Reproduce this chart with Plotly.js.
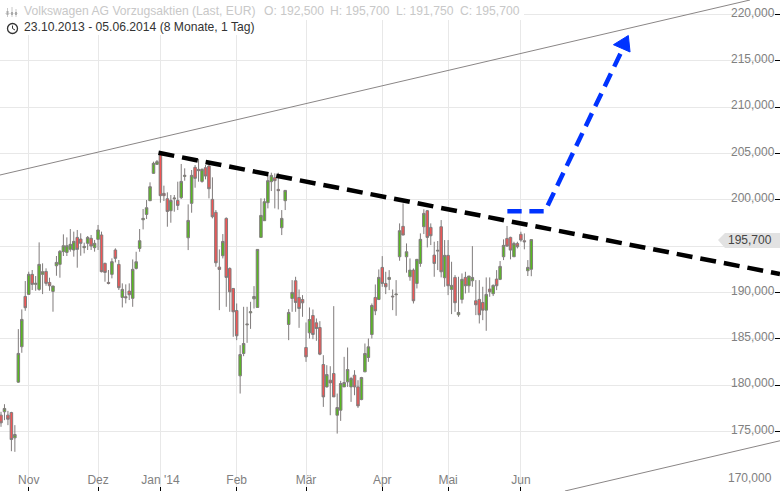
<!DOCTYPE html>
<html><head><meta charset="utf-8">
<script src="https://cdn.plot.ly/plotly-3.0.1.min.js"></script>
<style>html,body{margin:0;padding:0;background:#fff}#c{width:780px;height:491px}</style></head>
<body><div id="c"></div>
<script>
const open=[176760,177120,176760,177040,174310,180320,184140,189570,189790,191950,190870,190330,191950,192270,191080,190110,192880,193030,194400,194320,194650,194580,195940,195760,194830,195300,195840,194830,195730,196200,193140,191080,191950,194580,193030,189460,189540,190150,189360,192590,
194750,197840,198420,199900,202850,203820,204940,200690,200110,198820,200110,199930,200220,202520,195900,199610,203500,203280,201980,203460,203640,200040,198640,192730,193960,197990,192590,190430,188050,181000,183410,186500,187800,189310,188380,195940,197740,199680,
201950,202380,201120,196980,199900,186540,189350,191260,189460,189240,184060,185640,187510,186720,186220,182220,179810,180530,181250,176750,177290,179810,180350,179810,181070,179810,178440,181430,182980,185460,189460,189240,192700,190970,191400,189600,189750,
193850,197130,193850,191690,192410,190970,193130,197090,198820,197020,194030,194460,197090,191590,194000,190330,191620,187590,189250,191620,190720,191260,189100,189250,188920,188090,190360,189860,191440,191410,193850,195830,195940,193850,195290,196270,195580,192340,192500];
const high=[177120,177940,177220,177120,175680,186040,188170,191230,192240,192420,191770,195400,193140,192600,191590,190720,193930,194580,196270,195940,196840,196560,196740,196380,195370,196090,196200,195660,197280,196560,193210,192420,193680,194760,193500,190980,190870,190980,193560,194390,
196840,199000,199970,201880,204110,204290,205010,201520,200800,200510,200510,201950,203860,203390,199500,203210,203750,204400,203390,203750,203750,202420,198890,194640,196300,198100,192700,190430,188810,184310,188450,188450,188990,190680,194640,200150,200150,202670,
202920,202850,202920,198890,201050,188200,191330,191690,190320,189710,186760,188380,188160,187190,186900,183230,182150,182040,188520,179090,180460,183050,184060,180890,181610,180530,180890,184490,185030,188810,190860,192480,193920,192230,192410,190320,191330,
197450,199610,195290,193670,192590,193600,196370,198970,198890,197450,195470,195550,197810,195650,195650,193310,191870,191690,192050,192230,191770,195000,191330,191330,190610,191620,191620,190870,192410,193390,195730,197170,196010,195470,195470,196550,196370,193490,195700];
const low=[175500,176220,175680,172870,172800,180250,183490,188020,189720,190260,190180,190180,189820,190720,190180,187920,191800,191590,193930,193930,194400,193860,192670,193960,194220,194580,194580,194400,194580,192160,191160,190870,191520,193240,190260,188380,188820,189180,188450,192480,
194390,196800,197920,199860,202780,203750,199680,199860,197090,197520,198710,198890,200080,202060,194570,198600,201300,201950,201840,202200,200150,197990,192770,188090,193670,188450,187910,185210,184850,179090,183120,184560,186070,188270,188340,195940,197740,199070,
200940,199070,198960,196190,198890,184850,187910,187910,186180,187370,182510,185030,184960,184780,183230,177650,179740,176750,178730,174770,176140,179810,179810,178190,178910,177540,178370,181430,182510,185030,187550,189170,190610,189820,190250,188090,187480,
193420,196190,192130,191260,188810,190430,192770,196300,194860,195110,191690,192410,191620,190610,189710,187660,187910,187370,188810,189890,189970,190610,187550,186650,187010,185860,189530,189610,190250,191330,193490,194930,193570,193850,194750,195470,194650,191770,191750];
const close=[175930,177480,176320,174130,174670,183420,187090,188350,191950,190870,190980,193030,192240,190980,190720,190690,193240,194430,195040,195040,195190,195510,194650,195300,194970,195940,195010,195300,196740,192240,192160,190980,193320,193680,190510,190330,189430,189750,192490,193310,
195580,197990,199140,201410,203930,204110,200440,200440,198740,199930,200180,199390,201980,202630,197770,202630,202310,203140,203280,202560,201190,198170,193200,192480,195500,191620,190070,187910,185320,183300,184490,186580,187910,189560,194640,198310,199790,202060,
202630,202060,200980,197990,201010,187840,190000,188920,188270,188880,183050,187080,185460,186110,183340,178730,181140,180240,178730,177580,180170,180280,181680,180710,179810,177760,180820,183410,184130,188590,188020,191620,190970,190610,191620,189530,189820,
196660,196190,194390,192410,189100,193570,195730,198530,195940,196120,193130,194540,192230,194000,190720,190760,188890,187840,191410,190720,191770,191620,188670,187590,188090,189790,190070,190760,190720,192810,195080,195000,194570,195290,194930,195650,195470,192700,195700];

const monthLabels=['Nov','Dez',"Jan '14",'Feb','M\u00e4r','Apr','Mai','Jun'];
const monthIndex=[8,28,46,68,88,110,129,150];
const priceTicks=[170000,175000,180000,185000,190000,195000,200000,205000,210000,215000,220000];
const priceTickLabels=['170,000','175,000','180,000','185,000','190,000','','200,000','205,000','210,000','215,000','220,000'];

const upperChannelX=[-0.29,216.1], upperChannelY=[202672,221554];
const lowerChannelX=[162.7,224.75], lowerChannelY=[168575,173995];
const resistanceX=[45.44,224.75], resistanceY=[205067,191990];
const targetX=[146.1,156.95,179.5], targetY=[198755,198755,216375];
const arrowHeadX=[181.0,176.7,181.5,181.0], arrowHeadY=[217724,216731,215943,217724];

const W=780,H=491;
const px=v=>v/W, py=v=>1-v/H;
const idx=open.map((_,i)=>i);
const greyLine='#807c7c';

const line=(x,y,color,width,dash)=>({type:'scatter',mode:'lines',x,y,hoverinfo:'skip',showlegend:false,
  line:{color,width,dash:dash||'solid',simplify:false}});

const traces=[
 line(upperChannelX,upperChannelY,'#8a8686',1),
 line(lowerChannelX,lowerChannelY,'#8a8686',1),
 {type:'candlestick',x:idx,open,high,low,close,whiskerwidth:0,showlegend:false,
  increasing:{line:{color:greyLine,width:1},fillcolor:'#58b821'},
  decreasing:{line:{color:greyLine,width:1},fillcolor:'#f25555'}},
 line(resistanceX,resistanceY,'#000000',4.5,'16px,8px'),
 line(targetX,targetY,'#0033ff',4.5,'14.3px,7.7px'),
 {type:'scatter',mode:'lines',x:arrowHeadX,y:arrowHeadY,fill:'toself',fillcolor:'#0033ff',
  line:{color:'#0033ff',width:1},hoverinfo:'skip',showlegend:false}
];

const hf=12.15;
const hdr=(t,x,y,c)=>({text:t,xref:'paper',yref:'paper',x:px(x),y:py(y),xanchor:'left',yanchor:'middle',
  showarrow:false,font:{family:'Liberation Sans',size:hf,color:c},borderpad:0});
const gl='#c8c8c8', dk='#333333';
const annotations=[
 hdr('Volkswagen AG Vorzugsaktien (Last, EUR)',23,11,gl),
 hdr('O: 192,500',262.7,11,gl),hdr('H: 195,700',329,11,gl),hdr('L: 191,750',395,11,gl),hdr('C: 195,700',459,11,gl),
 hdr('23.10.2013 - 05.06.2014 (8 Monate, 1 Tag)',23,27,dk),
 {text:'195,700',xref:'paper',yref:'paper',x:px(774),y:py(240),xanchor:'right',yanchor:'middle',showarrow:false,
  font:{family:'Liberation Sans',size:12,color:'#444'}},
 {text:priceTickLabels[0],xref:'paper',yref:'paper',x:px(774),y:py(478.3),xanchor:'right',yanchor:'middle',showarrow:false,
  font:{family:'Liberation Sans',size:12,color:'#808080'}}
];
const P=(a)=>'M'+a.map(p=>px(p[0])+','+py(p[1])).join('L')+'Z';
const pl=(x0,y0,x1,y1,c,w)=>({type:'line',xref:'paper',yref:'paper',x0:px(x0),y0:py(y0),x1:px(x1),y1:py(y1),line:{color:c,width:w||1},layer:'above'});
const shapes=[
 {type:'rect',xref:'paper',yref:'paper',x0:0,x1:px(524),y0:py(0),y1:py(20),fillcolor:'#fff',line:{width:0},layer:'above'},
 {type:'rect',xref:'paper',yref:'paper',x0:0,x1:px(262),y0:py(20),y1:py(35),fillcolor:'#fff',line:{width:0},layer:'above'},
 {type:'path',xref:'paper',yref:'paper',path:P([[718,240],[725,233],[780,233],[780,248],[725,248]]),fillcolor:'#e2e2e2',line:{width:0},layer:'above'},
 {type:'circle',xref:'paper',yref:'paper',x0:px(7.5),x1:px(17.5),y0:py(23.5),y1:py(33.5),fillcolor:'#fff',line:{color:dk,width:1.3},layer:'above'},
 pl(12.5,25.5,12.5,28.5,dk),pl(12.5,28.5,15,30,dk),
 pl(5,13.5,18,13.5,'#e4e4e4'),
 pl(7.5,8,7.5,17,gl),pl(12,7,12,17,gl),pl(16,9,16,17,gl),
 pl(7.5,11,7.5,15,'#aaa',2),pl(12,12,12,15,'#aaa',2),pl(16,12,16,15,'#aaa',2)
];

Plotly.newPlot('c',traces,{
 width:W,height:H,margin:{l:0,r:0,t:0,b:0,pad:0},autosize:false,
 paper_bgcolor:'#fff',plot_bgcolor:'#fff',showlegend:false,dragmode:false,
 boxmode:'overlay',boxgap:0.15,boxgroupgap:0.15,
 xaxis:{type:'linear',range:[-0.2885,224.76],tickmode:'array',tickvals:monthIndex,ticktext:monthLabels,
  ticks:'inside',ticklen:4,tickwidth:1,tickcolor:'#000',ticklabelposition:'inside',
  tickfont:{family:'Liberation Sans',size:12,color:'#808080'},
  showgrid:true,gridcolor:'#e8e8e8',gridwidth:1,zeroline:false,showline:false,
  rangeslider:{visible:false}},
 yaxis:{side:'right',range:[168575,221554],tickmode:'array',tickvals:priceTicks,ticktext:priceTickLabels,
  ticks:'inside',ticklen:5,tickwidth:1,tickcolor:'#000',ticklabelposition:'inside',ticklabelshift:-2,
  tickfont:{family:'Liberation Sans',size:12,color:'#808080'},
  showgrid:true,gridcolor:'#e8e8e8',gridwidth:1,zeroline:false,showline:false},
 annotations,shapes
},{displayModeBar:false,staticPlot:true});
</script></body></html>
